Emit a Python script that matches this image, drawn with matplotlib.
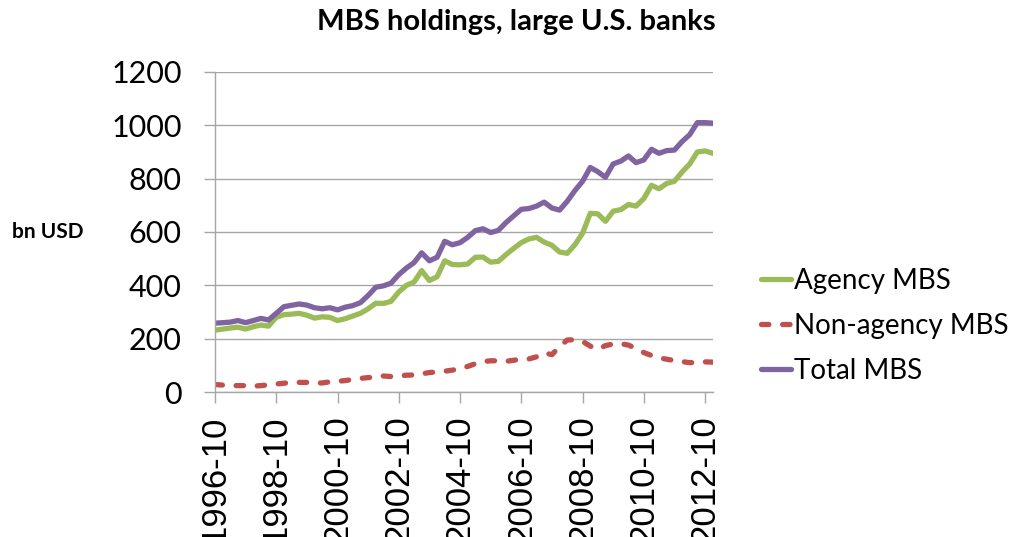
import pandas as pd
import matplotlib
matplotlib.use("Agg")
import matplotlib.pyplot as plt
import matplotlib.dates as mdates

# quarterly readings, 1996-10 .. 2013-01 (bn USD)
dates = pd.date_range("1996-10-01", "2013-01-01", freq="QS-OCT")

agency = [232, 236, 240, 243, 236, 245, 251, 247, 280, 290, 292, 295, 288,
          277, 282, 280, 268, 275, 285, 295, 312, 333, 332, 340, 375, 400,
          412, 455, 418, 432, 492, 478, 477, 480, 505, 506, 487, 490, 515,
          538, 560, 574, 580, 562, 550, 525, 520, 552, 595, 670, 668, 640,
          678, 684, 703, 697, 725, 775, 762, 782, 790, 825, 855, 900, 904,
          895]

non_agency = [28, 26, 24, 24, 24, 22, 24, 27, 30, 33, 35, 36, 36, 34, 34,
              38, 40, 43, 47, 51, 54, 56, 60, 58, 60, 63, 64, 68, 73, 75,
              78, 82, 88, 96, 106, 114, 117, 117, 115, 119, 123, 124, 132,
              147, 140, 170, 195, 196, 190, 172, 160, 174, 180, 181, 176,
              163, 148, 137, 128, 123, 118, 114, 110, 111, 113, 112]

total = [258, 260, 262, 268, 260, 268, 276, 270, 295, 320, 325, 330, 326,
         316, 312, 316, 308, 318, 324, 335, 362, 393, 398, 408, 440, 465,
         485, 522, 492, 505, 565, 552, 560, 580, 605, 612, 598, 606, 635,
         660, 685, 688, 697, 712, 690, 682, 715, 755, 790, 842, 826, 805,
         855, 866, 885, 860, 870, 910, 895, 905, 907, 939, 965, 1010, 1010,
         1008]

tick_dates = pd.date_range("1996-10-01", "2012-10-01", freq="24MS")

fig = plt.figure(figsize=(10.2, 5.37), dpi=100)
ax = fig.add_axes([0.2108, 0.270, 0.488, 0.596])

ax.plot(dates, agency, color="#9BBB59", lw=3.8, solid_capstyle="round",
        label="Agency MBS")
ax.plot(dates, non_agency, color="#C0504D", lw=3.8, dashes=(1.4, 2.6),
        dash_capstyle="round", label="Non-agency MBS")
ax.plot(dates, total, color="#8064A2", lw=3.8, solid_capstyle="round",
        label="Total MBS")

ax.set_ylim(0, 1200)
ax.set_yticks(range(0, 1201, 200))
ax.set_xlim(pd.Timestamp("1996-10-01"), pd.Timestamp("2013-01-01"))
ax.set_xticks(tick_dates)
ax.xaxis.set_major_formatter(mdates.DateFormatter("%Y-%m"))

ax.grid(axis="y", color="#A6A6A6", lw=1.0)
ax.set_axisbelow(True)
for s in ["top", "right"]:
    ax.spines[s].set_visible(False)
for s in ["left", "bottom"]:
    ax.spines[s].set_color("#A6A6A6")
    ax.spines[s].set_linewidth(1.0)

ax.tick_params(axis="y", length=8, width=1, color="#A6A6A6", pad=16,
               labelsize=22)
ax.tick_params(axis="x", length=8, width=1, color="#A6A6A6", pad=9,
               labelsize=25, labelrotation=90)
for lab in ax.get_yticklabels():
    lab.set_fontfamily("Lato")
for lab in ax.get_xticklabels():
    lab.set_fontfamily("Liberation Sans")

fig.text(0.506, 0.959, "MBS holdings, large U.S. banks", ha="center",
         va="center", fontsize=21, fontweight="bold", family="Lato")
fig.text(0.012, 0.568, "bn USD", ha="left", va="center", fontsize=15,
         fontweight="bold", family="Lato")

leg = fig.legend(loc="center left", bbox_to_anchor=(0.746, 0.393),
                 frameon=False, prop={"family": "Lato", "size": 20},
                 handlelength=1.08, handletextpad=0.11, labelspacing=0.68,
                 borderpad=0, borderaxespad=0)

fig.savefig("out.png", dpi=100)
